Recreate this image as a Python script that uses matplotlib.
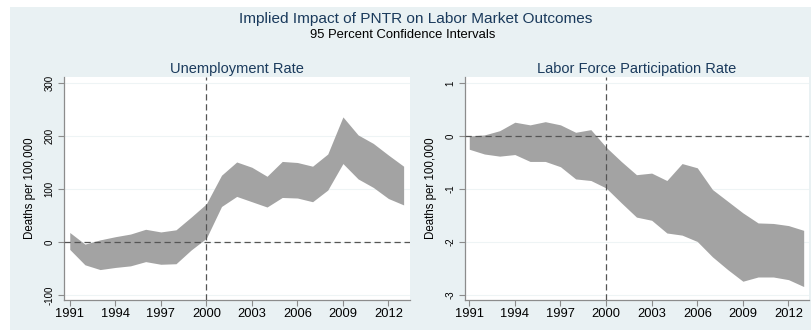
import numpy as np
import matplotlib.pyplot as plt

plt.rcParams['font.family'] = ['Liberation Sans', 'DejaVu Sans']

years = np.arange(1991, 2014)

# Unemployment rate, 95% CI bounds
unemp_hi = [18, -4, 4, 10, 15, 24, 19, 23, 47, 72, 126, 151, 141, 124, 152, 150,
            143, 166, 236, 202, 186, 164, 143]
unemp_lo = [-14, -43, -52, -48, -45, -37, -42, -41, -15, 7, 67, 86, 76, 66, 84, 83,
            76, 98, 148, 119, 103, 82, 70]

# Labor force participation rate, 95% CI bounds
lfp_hi = [0.0, 0.02, 0.1, 0.26, 0.21, 0.27, 0.21, 0.07, 0.12, -0.21, -0.48, -0.73,
          -0.70, -0.84, -0.52, -0.60, -1.01, -1.23, -1.45, -1.64, -1.65, -1.69, -1.78]
lfp_lo = [-0.25, -0.34, -0.38, -0.35, -0.48, -0.48, -0.58, -0.81, -0.84, -0.98, -1.26,
          -1.53, -1.59, -1.83, -1.87, -1.99, -2.28, -2.52, -2.74, -2.66, -2.66, -2.71, -2.84]

xticks = [1991, 1994, 1997, 2000, 2003, 2006, 2009, 2012]
unemp_yticks = [-100, 0, 100, 200, 300]
lfp_yticks = [-3, -2, -1, 0, 1]

BG = '#e9f1f3'
NAVY = '#1a3a5c'
AXIS = '#8c8c8c'

fig = plt.figure(figsize=(8.11, 3.30), dpi=100)
fig.patch.set_facecolor('white')
# light outer region, leaves a thin white margin top/left
fig.add_artist(plt.Rectangle((10 / 811, 0), 1, 1 - 7 / 330, transform=fig.transFigure,
                             facecolor=BG, edgecolor='none', zorder=-10))

fig.text(0.513, 1 - 19 / 330, 'Implied Impact of PNTR on Labor Market Outcomes',
         ha='center', va='center', fontsize=11.1, color=NAVY)
fig.text(0.496, 1 - 35 / 330, '95 Percent Confidence Intervals',
         ha='center', va='center', fontsize=9.4, color='black')


def panel(rect, lo, hi, yticks, ylim, xlim, title):
    ax = fig.add_axes(rect)
    ax.set_facecolor('white')
    ax.fill_between(years, lo, hi, color='#a3a3a3', linewidth=0, zorder=2)
    ax.axvline(2000, color='#555555', lw=0.9, ls=(0, (5, 3)), zorder=3)
    ax.axhline(0, color='#555555', lw=0.9, ls=(0, (5, 3)), zorder=3)
    ax.set_xlim(*xlim)
    ax.set_ylim(*ylim)
    ax.set_xticks(xticks)
    ax.set_yticks(yticks)
    ax.set_yticklabels([str(t) for t in yticks], rotation=90, va='center', fontsize=7)
    ax.tick_params(axis='x', labelsize=9.3, length=4, color=AXIS, pad=2)
    ax.tick_params(axis='y', length=4, color=AXIS, pad=3)
    ax.grid(axis='y', color='#eef4f5', lw=0.8, zorder=0)
    for s in ['top', 'right']:
        ax.spines[s].set_visible(False)
    for s in ['left', 'bottom']:
        ax.spines[s].set_color(AXIS)
        ax.spines[s].set_linewidth(0.9)
    ax.set_ylabel('Deaths per 100,000', fontsize=8.3, labelpad=6)
    ax.set_title(title, fontsize=10.5, color=NAVY, pad=3)
    return ax


panel([64 / 811, 30 / 330, 346 / 811, 223 / 330], unemp_lo, unemp_hi,
      unemp_yticks, (-109.4, 311.3), (1990.62, 2013.42), 'Unemployment Rate')
panel([465 / 811, 30 / 330, 344 / 811, 223 / 330], lfp_lo, lfp_hi,
      lfp_yticks, (-3.094, 1.113), (1990.72, 2013.35), 'Labor Force Participation Rate')

fig.savefig('out.png', dpi=100, facecolor=fig.get_facecolor())
